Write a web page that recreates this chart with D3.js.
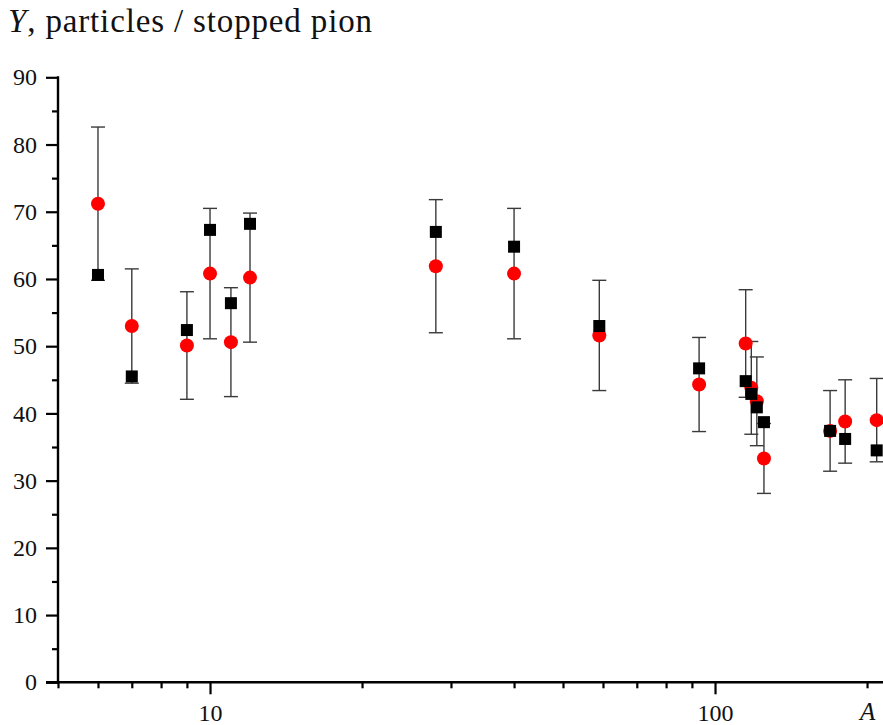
<!DOCTYPE html>
<html lang="en">
<head>
  <meta charset="UTF-8">
  <title>Yield per stopped pion</title>
  <style>
    html, body {
      margin: 0;
      padding: 0;
      overflow: hidden;
      background: #fff;
    }
    svg {
      display: block;
    }
    text {
      font-family: "Liberation Serif", "Times New Roman", Tinos, serif;
    }
    .axis path, .axis line {
      stroke: #000;
      stroke-width: 2.2;
    }
    .axis text {
      font-size: 24px;
      fill: #111;
      font-family: "Liberation Serif", "Times New Roman", Tinos, serif;
    }
  </style>
</head>
<body>
<svg width="883" height="725"></svg>
<script src="https://d3js.org/d3.v7.min.js"></script>
<script>
// mass number of each target nucleus
const massNumbers = [6, 7, 9, 10, 11, 12, 28, 40, 59, 93, 115, 118, 121, 125, 169, 181, 209];
// red circles with their error bars
const redYield = [71.2, 53.0, 50.1, 60.8, 50.6, 60.2, 61.9, 60.8, 51.6, 44.3, 50.4, 43.8, 41.8, 33.3, 37.4, 38.8, 39.0];
const redError = [11.4, 8.5, 8.0, 9.7, 8.1, 9.6, 9.9, 9.7, 8.2, 7.0, 8.0, 6.9, 6.6, 5.2, 6.0, 6.2, 6.2];
// black squares
const blackYield = [60.6, 45.5, 52.4, 67.3, 56.4, 68.2, 67.0, 64.8, 53.0, 46.7, 44.8, 42.9, 40.9, 38.7, 37.4, 36.2, 34.5];

const xMajor = [10, 100];
const xMinor = [5, 6, 7, 8, 9, 20, 30, 40, 50, 60, 70, 80, 90, 200];
const yMajor = [0, 10, 20, 30, 40, 50, 60, 70, 80, 90];
const yMinor = [5, 15, 25, 35, 45, 55, 65, 75, 85];

const svg = d3.select("svg");
const plotLeft = 58, plotBottom = 682.3, plotTop = 77.3;
const decade = 505;

// the original axis runs past the right edge of the picture
const x = d3.scaleLog().domain([5, 250]).range([plotLeft, plotLeft + decade * Math.log10(50)]);
const y = d3.scaleLinear().domain([0, 90]).range([plotBottom, plotTop]);

const points = massNumbers.map((a, i) => ({
  a, red: redYield[i], err: redError[i], black: blackYield[i]
}));

// axes
svg.append("g").attr("class", "axis")
  .attr("transform", `translate(0,${plotBottom})`)
  .call(d3.axisBottom(x).tickValues(xMinor).tickSize(6).tickSizeOuter(0).tickFormat(""))
  .select(".domain").remove();
svg.append("g").attr("class", "axis")
  .attr("transform", `translate(0,${plotBottom})`)
  .call(d3.axisBottom(x).tickValues(xMajor).tickSize(12).tickPadding(10).tickSizeOuter(0).tickFormat(d3.format("d")))
  .select(".domain").remove();
svg.append("line")
  .attr("x1", plotLeft - 12).attr("x2", 883)
  .attr("y1", plotBottom).attr("y2", plotBottom)
  .attr("stroke", "#000").attr("stroke-width", 2.4);

svg.append("g").attr("class", "axis")
  .attr("transform", `translate(${plotLeft},0)`)
  .call(d3.axisLeft(y).tickValues(yMinor).tickSize(6).tickSizeOuter(0).tickFormat(""))
  .select(".domain").remove();
svg.append("g").attr("class", "axis")
  .attr("transform", `translate(${plotLeft},0)`)
  .call(d3.axisLeft(y).tickValues(yMajor).tickSize(12).tickPadding(9).tickSizeOuter(0).tickFormat(d3.format("d")))
  .select(".domain").remove();
svg.append("line")
  .attr("x1", plotLeft).attr("x2", plotLeft)
  .attr("y1", plotTop - 1).attr("y2", plotBottom)
  .attr("stroke", "#000").attr("stroke-width", 2.4);

// error bars
const eb = svg.append("g").attr("stroke", "#3a3a3a").attr("stroke-width", 1.4).attr("fill", "none");
points.forEach(d => {
  const cx = x(d.a);
  const y1 = y(d.red + d.err), y2 = y(d.red - d.err);
  eb.append("line").attr("x1", cx).attr("x2", cx).attr("y1", y1).attr("y2", y2);
  eb.append("line").attr("x1", cx - 7).attr("x2", cx + 7).attr("y1", y1).attr("y2", y1);
  eb.append("line").attr("x1", cx - 7).attr("x2", cx + 7).attr("y1", y2).attr("y2", y2);
});

svg.append("g").selectAll("circle")
  .data(points)
  .enter().append("circle")
  .attr("cx", d => x(d.a))
  .attr("cy", d => y(d.red))
  .attr("r", 7)
  .attr("fill", "#ff0000");

svg.append("g").selectAll("rect")
  .data(points)
  .enter().append("rect")
  .attr("x", d => x(d.a) - 6)
  .attr("y", d => y(d.black) - 6)
  .attr("width", 12)
  .attr("height", 12)
  .attr("fill", "#000");

// titles
const title = svg.append("text")
  .attr("x", 8).attr("y", 32)
  .attr("font-size", 33)
  .attr("textLength", 364)
  .attr("lengthAdjust", "spacing")
  .attr("fill", "#111");
title.append("tspan").attr("font-style", "italic").text("Y");
title.append("tspan").text(", particles / stopped pion");

svg.append("text")
  .attr("x", 860).attr("y", 720)
  .attr("font-size", 25)
  .attr("font-style", "italic")
  .attr("fill", "#111")
  .text("A");
</script>
</body>
</html>
